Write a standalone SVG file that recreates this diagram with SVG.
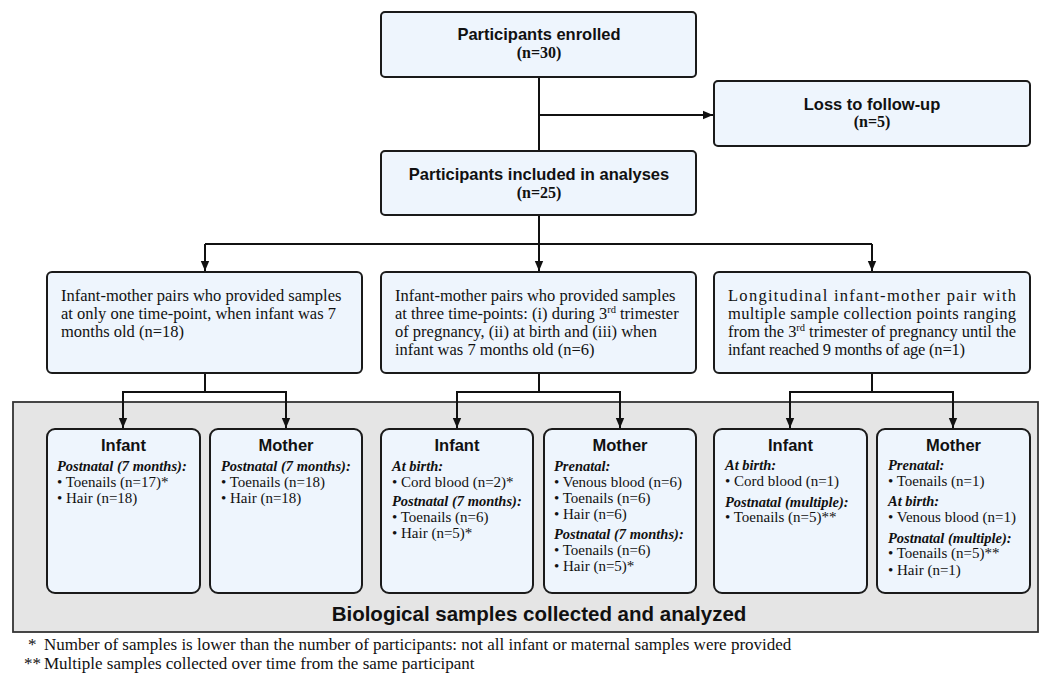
<svg xmlns="http://www.w3.org/2000/svg" width="1051" height="673" viewBox="0 0 1051 673">
<style>
.box{fill:#EEF5FD;stroke:#1a1a1a;stroke-width:2}
.sbox{fill:#EEF5FD;stroke:#1a1a1a;stroke-width:2}
.area{fill:#E5E5E5;stroke:#333;stroke-width:1.8}
.ttl{font-family:"Liberation Sans",Arial,sans-serif;font-weight:bold;font-size:16.5px;fill:#111;text-anchor:middle}
.n{font-family:"Liberation Serif","Times New Roman",serif;font-weight:bold;font-size:16px;fill:#111;text-anchor:middle}
.body{font-family:"Liberation Serif","Times New Roman",serif;font-size:16.5px;fill:#111}
.hd{font-family:"Liberation Sans",Arial,sans-serif;font-weight:bold;font-size:16.5px;fill:#111;text-anchor:middle}
.sub{font-family:"Liberation Serif","Times New Roman",serif;font-weight:bold;font-style:italic;font-size:14.5px;fill:#111}
.it{font-family:"Liberation Serif","Times New Roman",serif;font-size:15px;fill:#111}
.big{font-family:"Liberation Sans",Arial,sans-serif;font-weight:bold;font-size:20.5px;fill:#111;text-anchor:middle}
.fn{font-family:"Liberation Serif","Times New Roman",serif;font-size:17px;fill:#111}
.ln{fill:none;stroke:#111;stroke-width:2}
</style>
<defs>
<marker id="ah" viewBox="0 0 10 10" refX="10" refY="5" markerWidth="10" markerHeight="10" markerUnits="userSpaceOnUse" orient="auto">
<path d="M0,0.8 L10,5 L0,9.2 Z" fill="#111"/>
</marker>
</defs>

<rect id="samples-area" class="area" x="13" y="402" width="1025" height="230"/>

<g id="connectors">
<path class="ln" d="M539,77 V151"/>
<path class="ln" d="M539,115 H713" marker-end="url(#ah)"/>
<path class="ln" d="M539,215 V271" marker-end="url(#ah)"/>
<path class="ln" d="M205,244 H872"/>
<path class="ln" d="M205,244 V271" marker-end="url(#ah)"/>
<path class="ln" d="M872,244 V271" marker-end="url(#ah)"/>
<path class="ln" d="M205,373 V392 M123,392 H286"/>
<path class="ln" d="M123,391 V428" marker-end="url(#ah)"/>
<path class="ln" d="M286,391 V428" marker-end="url(#ah)"/>
<path class="ln" d="M539,373 V392 M457,392 H620"/>
<path class="ln" d="M457,391 V428" marker-end="url(#ah)"/>
<path class="ln" d="M620,391 V428" marker-end="url(#ah)"/>
<path class="ln" d="M872,373 V392 M790,392 H953"/>
<path class="ln" d="M790,391 V428" marker-end="url(#ah)"/>
<path class="ln" d="M953,391 V428" marker-end="url(#ah)"/>
</g>

<g id="enrolled">
<rect class="box" x="381" y="12" width="315" height="65" rx="4"/>
<text class="ttl" x="539" y="40">Participants enrolled</text>
<text class="n" x="539" y="58">(n=30)</text>
</g>

<g id="loss">
<rect class="box" x="714" y="81" width="316" height="65" rx="4"/>
<text class="ttl" x="872" y="110">Loss to follow-up</text>
<text class="n" x="872" y="127">(n=5)</text>
</g>

<g id="included">
<rect class="box" x="381" y="151" width="315" height="64" rx="4"/>
<text class="ttl" x="539" y="180">Participants included in analyses</text>
<text class="n" x="539" y="198">(n=25)</text>
</g>

<g id="group1">
<rect class="box" x="47" y="272" width="315" height="101" rx="5"/>
<text class="body" x="61" y="301">Infant-mother pairs who provided samples</text>
<text class="body" x="61" y="319">at only one time-point, when infant was 7</text>
<text class="body" x="61" y="337">months old (n=18)</text>
</g>

<g id="group2">
<rect class="box" x="381" y="272" width="315" height="101" rx="5"/>
<text class="body" x="395" y="301">Infant-mother pairs who provided samples</text>
<text class="body" x="395" y="319">at three time-points: (i) during 3<tspan font-size="10.5" dy="-6">rd</tspan><tspan dy="6"> trimester</tspan></text>
<text class="body" x="395" y="337">of pregnancy, (ii) at birth and (iii) when</text>
<text class="body" x="395" y="355">infant was 7 months old (n=6)</text>
</g>

<g id="group3">
<rect class="box" x="714" y="272" width="316" height="101" rx="5"/>
<text class="body" x="728" y="301" textLength="288" lengthAdjust="spacing">Longitudinal infant-mother pair with</text>
<text class="body" x="728" y="319" textLength="288" lengthAdjust="spacing">multiple sample collection points ranging</text>
<text class="body" x="728" y="337" textLength="288" lengthAdjust="spacing">from the 3<tspan font-size="10.5" dy="-6">rd</tspan><tspan dy="6"> trimester of pregnancy until the</tspan></text>
<text class="body" x="728" y="355" textLength="237" lengthAdjust="spacing">infant reached 9 months of age (n=1)</text>
</g>

<g id="infant1">
<rect class="sbox" x="47" y="429" width="153" height="164" rx="8"/>
<text class="hd" x="123.5" y="451">Infant</text>
<text class="sub" x="57" y="471">Postnatal (7 months):</text>
<text class="it" x="57" y="487">• Toenails (n=17)*</text>
<text class="it" x="57" y="503">• Hair (n=18)</text>
</g>

<g id="mother1">
<rect class="sbox" x="210" y="429" width="152" height="164" rx="8"/>
<text class="hd" x="286" y="451">Mother</text>
<text class="sub" x="221" y="471">Postnatal (7 months):</text>
<text class="it" x="221" y="487">• Toenails (n=18)</text>
<text class="it" x="221" y="503">• Hair (n=18)</text>
</g>

<g id="infant2">
<rect class="sbox" x="381" y="429" width="152" height="164" rx="8"/>
<text class="hd" x="457" y="451">Infant</text>
<text class="sub" x="392" y="471">At birth:</text>
<text class="it" x="392" y="487">• Cord blood (n=2)*</text>
<text class="sub" x="392" y="506">Postnatal (7 months):</text>
<text class="it" x="392" y="522">• Toenails (n=6)</text>
<text class="it" x="392" y="538">• Hair (n=5)*</text>
</g>

<g id="mother2">
<rect class="sbox" x="544" y="429" width="152" height="164" rx="8"/>
<text class="hd" x="620" y="451">Mother</text>
<text class="sub" x="554" y="471">Prenatal:</text>
<text class="it" x="554" y="487">• Venous blood (n=6)</text>
<text class="it" x="554" y="503">• Toenails (n=6)</text>
<text class="it" x="554" y="519">• Hair (n=6)</text>
<text class="sub" x="554" y="539">Postnatal (7 months):</text>
<text class="it" x="554" y="555">• Toenails (n=6)</text>
<text class="it" x="554" y="571">• Hair (n=5)*</text>
</g>

<g id="infant3">
<rect class="sbox" x="714" y="429" width="153" height="164" rx="8"/>
<text class="hd" x="790.5" y="451">Infant</text>
<text class="sub" x="725" y="470">At birth:</text>
<text class="it" x="725" y="486">• Cord blood (n=1)</text>
<text class="sub" x="725" y="507">Postnatal (multiple):</text>
<text class="it" x="725" y="522">• Toenails (n=5)**</text>
</g>

<g id="mother3">
<rect class="sbox" x="877" y="429" width="153" height="164" rx="8"/>
<text class="hd" x="953.5" y="451">Mother</text>
<text class="sub" x="888" y="470">Prenatal:</text>
<text class="it" x="888" y="486">• Toenails (n=1)</text>
<text class="sub" x="888" y="506">At birth:</text>
<text class="it" x="888" y="522">• Venous blood (n=1)</text>
<text class="sub" x="888" y="543">Postnatal (multiple):</text>
<text class="it" x="888" y="558">• Toenails (n=5)**</text>
<text class="it" x="888" y="575">• Hair (n=1)</text>
</g>

<text class="big" x="539" y="621">Biological samples collected and analyzed</text>

<text class="fn" x="28" y="650">*</text>
<text class="fn" x="44" y="650">Number of samples is lower than the number of participants: not all infant or maternal samples were provided</text>
<text class="fn" x="24" y="669">**</text>
<text class="fn" x="44" y="669">Multiple samples collected over time from the same participant</text>
</svg>
